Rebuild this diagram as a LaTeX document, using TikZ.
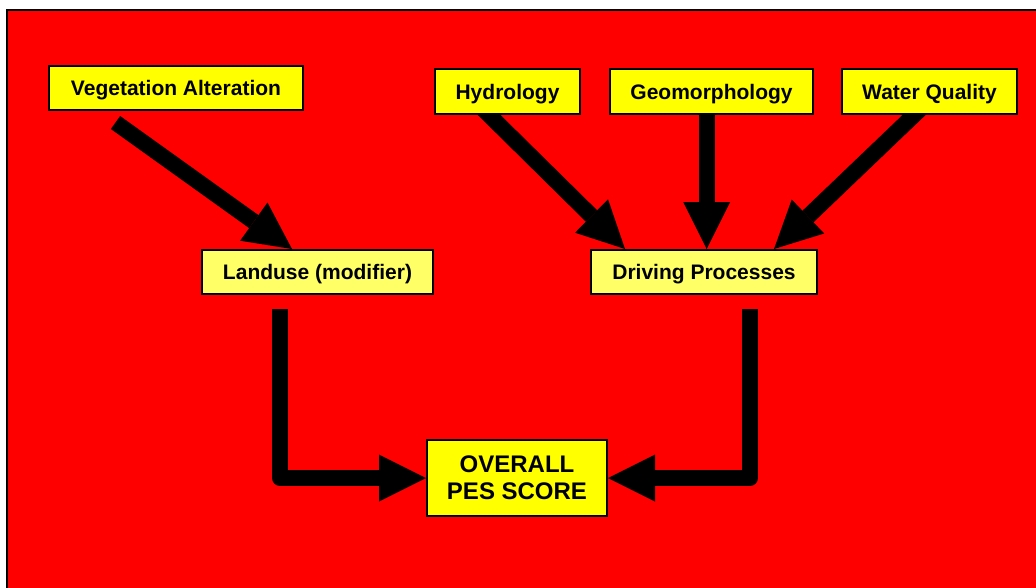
\documentclass[tikz,border=0pt]{standalone}
\usepackage{fontspec}
\setmainfont{Liberation Sans}
\usetikzlibrary{arrows.meta}
\pgfdeclarelayer{back}
\pgfdeclarelayer{arrowlayer}
\pgfsetlayers{back,arrowlayer,main}
\definecolor{boxyellow}{RGB}{255,255,0}
\definecolor{paleyellow}{RGB}{255,255,102}
\definecolor{bgred}{RGB}{255,0,0}
\begin{document}
\begin{tikzpicture}[x=1pt,y=-1pt,
  boxbase/.style={draw=black, line width=2pt, fill=boxyellow, inner sep=0pt},
  box/.style={boxbase, font=\fontsize{21}{25}\selectfont\bfseries, text height=15pt, text depth=0pt},
  pale/.style={box, fill=paleyellow},
  bigarrow/.style={line width=16pt, line join=round, black,
    -{Triangle[width=47pt,length=47pt,line width=0pt]}}]
\useasboundingbox (0,0) rectangle (1036,587);
\begin{pgfonlayer}{back}
  \fill[white] (0,0) rectangle (1036,587);
  \filldraw[fill=bgred, draw=black, line width=2pt] (7,10) rectangle (1050,600);
\end{pgfonlayer}
% nodes
\node[box, minimum width=254pt, minimum height=44pt] (veg) at (176,88) {Vegetation Alteration};
\node[box, minimum width=145pt, minimum height=45pt] (hyd) at (507.5,91.5) {Hydrology};
\node[box, minimum width=203pt, minimum height=45pt] (geo) at (711.5,91.5) {Geomorphology};
\node[box, minimum width=175pt, minimum height=45pt] (wq) at (929.5,91.5) {Water Quality};
\node[pale, minimum width=231pt, minimum height=44pt] (lu) at (317.5,272) {Landuse (modifier)};
\node[pale, minimum width=226pt, minimum height=44pt] (dp) at (704,272) {Driving Processes};
\node[boxbase, minimum width=180pt, minimum height=76pt, align=center,
      font=\fontsize{24}{26.7}\selectfont\bfseries] (pes) at (517,478) {OVERALL\\PES SCORE};
% connectors
\begin{pgfonlayer}{arrowlayer}
  \draw[bigarrow] ([shift={(-60.5,11.5)}]veg.south) -- ([shift={(-25.5,0)}]lu.north);
  \draw[bigarrow] ([shift={(-28.5,-10)}]hyd.south) -- ([shift={(-79,0)}]dp.north);
  \draw[bigarrow] ([shift={(-4.8,-10)}]geo.south) -- ([shift={(2.7,0)}]dp.north);
  \draw[bigarrow] ([shift={(-5,-10)}]wq.south) -- ([shift={(70,0)}]dp.north);
  \draw[bigarrow] ([shift={(-37.5,14)}]lu.south) |- (pes.west);
  \draw[bigarrow] ([shift={(46,14)}]dp.south) |- (pes.east);
\end{pgfonlayer}
\end{tikzpicture}
\end{document}
